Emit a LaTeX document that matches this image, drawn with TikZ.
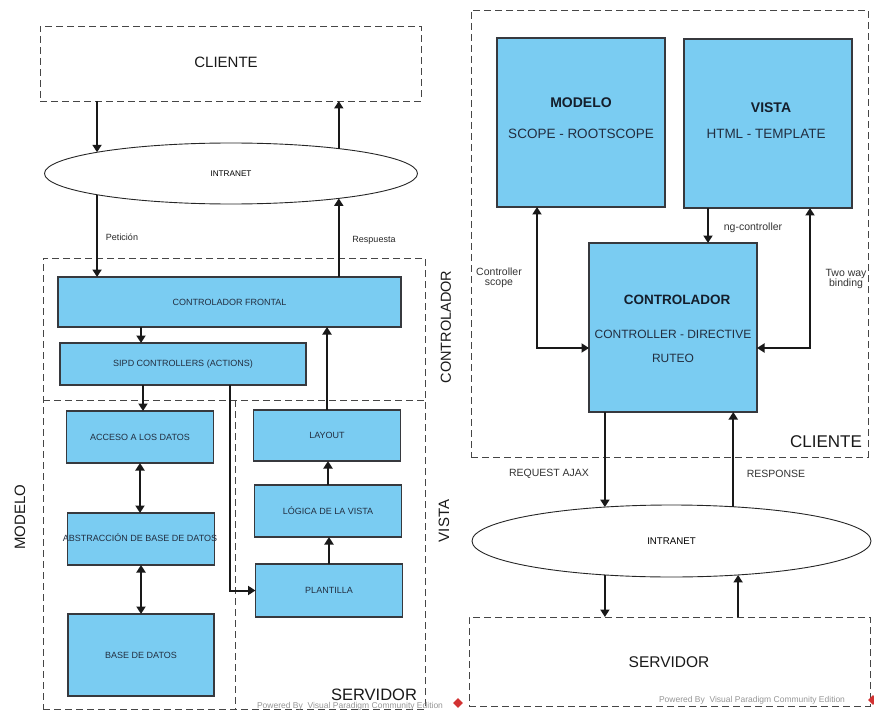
\documentclass[tikz,border=0pt]{standalone}
\usepackage{fontspec}
\setmainfont{Liberation Sans}
\usetikzlibrary{arrows.meta,shapes.geometric}
\definecolor{boxblue}{RGB}{122,204,242}
\definecolor{boxline}{RGB}{55,57,62}
\definecolor{boxtext}{RGB}{34,46,64}
\definecolor{titletext}{RGB}{20,30,44}
\definecolor{framegray}{RGB}{70,70,70}
\definecolor{markgray}{RGB}{150,150,150}
\definecolor{vpred}{RGB}{210,50,50}
\newcommand{\fs}[1]{\fontsize{#1}{#1}\selectfont}
\begin{document}
\begin{tikzpicture}[x=1pt,y=-1pt,
  box/.style={draw=boxline, fill=boxblue, line width=1.2pt, inner sep=0pt, outer sep=0pt,
              text=boxtext, font=\fs{9}, align=center},
  frame/.style={draw=framegray, dash pattern=on 7pt off 4pt, line width=0.9pt,
                inner sep=0pt, outer sep=0pt},
  cloud/.style={ellipse, draw=black!85, line width=0.9pt, inner sep=0pt, outer sep=0pt},
  arr/.style={-{Triangle[length=7.5pt,width=9pt]}, line width=2pt, black!90},
  biarr/.style={{Triangle[length=7.5pt,width=9pt]}-{Triangle[length=7.5pt,width=9pt]},
                line width=2pt, black!90},
  lbl/.style={font=\fs{9}, text=black!85, align=center},
  rlbl/.style={font=\fs{10.5}, text=black!80, align=center},
  zone/.style={font=\fs{15}, text=black!90},
  wmark/.style={font=\fs{8.5}, text=markgray},
  logo/.style={diamond, fill=vpred, minimum size=10pt, inner sep=0pt}]
\useasboundingbox (0,0) rectangle (874,711);

% ---------------- server-side MVC (left) ----------------
\node[frame, minimum width=381pt, minimum height=75pt] (cli) at (230.5,63.5) {};
\node[zone] (clitxt) at (226,62) {CLIENTE};
\node[cloud, minimum width=373pt, minimum height=61pt, font=\fs{8.2}] (net1) at (231,173.5) {INTRANET};

% server frame and its internal partitions
\node[frame, minimum width=382pt, minimum height=451pt] (srvl) at (234,483.5) {};
\coordinate (hsplitL) at (43,400);
\coordinate (hsplitR) at (425,400);
\coordinate (vsplitT) at (235,400);
\coordinate (vsplitB) at (235,709);
\draw[frame] (hsplitL) -- (hsplitR);
\draw[frame] (vsplitT) -- (vsplitB);

\node[box, minimum width=343pt, minimum height=50pt] (cf) at (229.5,302) {CONTROLADOR FRONTAL};
\node[box, minimum width=246pt, minimum height=42pt] (sipd) at (183,364) {SIPD CONTROLLERS (ACTIONS)};
\node[box, minimum width=147pt, minimum height=52pt] (acc) at (140,437) {ACCESO A LOS DATOS};
\node[box, minimum width=147pt, minimum height=52pt] (abs) at (141,539) {};
\node[font=\fs{9}, text=boxtext, inner sep=0pt] (abstxt) at (140,538) {ABSTRACCIÓN DE BASE DE DATOS};
\node[box, minimum width=146pt, minimum height=82pt] (bdd) at (141,655) {BASE DE DATOS};
\node[box, minimum width=147pt, minimum height=51pt] (lay) at (327,435.5) {LAYOUT};
\node[box, minimum width=147pt, minimum height=52pt] (log) at (328,511) {LÓGICA DE LA VISTA};
\node[box, minimum width=147pt, minimum height=53pt] (pla) at (329,590.5) {PLANTILLA};

\draw[arr] (cli.south -| net1.171.94) -- (net1.171.94);
\draw[arr] (net1.13.5) -- (net1.13.5 |- cli.south);
\draw[arr] (net1.-171.94) -- (net1.-171.94 |- cf.north);
\draw[arr] (cf.north -| net1.-13.5) -- (net1.-13.5);
\node[lbl] (lpet) at (122,237) {Petición};
\node[lbl] (lres) at (374,240) {Respuesta};

\draw[arr] ([xshift=-88.5pt]cf.south) -- ([xshift=-88.5pt]cf.south |- sipd.north);
\draw[arr] ([xshift=-40pt]sipd.south) -- ([xshift=-40pt]sipd.south |- acc.north);
\draw[biarr] (acc.south) -- (acc.south |- abs.north);
\draw[biarr] (abs.south) -- (abs.south |- bdd.north);
\draw[arr] ([xshift=47pt]sipd.south) |- (pla.west);
\draw[arr] (pla.north) -- (pla.north |- log.south);
\draw[arr] (log.north) -- (log.north |- lay.south);
\draw[arr] (lay.north) -- (lay.north |- cf.south);

\node[zone, rotate=90, font=\fs{14.5}] (zctl) at (446,327) {CONTROLADOR};
\node[zone, rotate=90] (zmod) at (20,517) {MODELO};
\node[zone, rotate=90] (zvis) at (444,521) {VISTA};
\node[wmark] (wm1) at (350,706) {Powered By \ Visual Paradigm Community Edition};
\node[logo] (lg1) at (458,703) {};
\node[zone, font=\fs{16.5}] (zsrv) at (374,695) {SERVIDOR};

% ---------------- client-side MVC (right) ----------------
\node[frame, minimum width=397pt, minimum height=447pt] (rcli) at (669.5,233.5) {};
\node[zone, font=\fs{17}] (rclitxt) at (826,442) {CLIENTE};

\node[box, minimum width=168pt, minimum height=169pt] (mod) at (581,122.5) {};
\node[font=\bfseries\fs{14}, text=titletext] (modt) at ([yshift=19.5pt]mod.center) {MODELO};
\node[font=\fs{13.5}, text=boxtext] (mods) at ([yshift=-11.5pt]mod.center) {SCOPE - ROOTSCOPE};

\node[box, minimum width=168pt, minimum height=169pt] (vis) at (768,123.5) {};
\node[font=\bfseries\fs{14}, text=titletext] (vist) at ([xshift=3pt,yshift=15.5pt]vis.center) {VISTA};
\node[font=\fs{13.5}, text=boxtext] (viss) at ([xshift=-2pt,yshift=-10.5pt]vis.center) {HTML - TEMPLATE};

\node[box, minimum width=168pt, minimum height=169pt] (ctl) at (673,327.5) {};
\node[font=\bfseries\fs{13.5}, text=titletext] (ctlt) at ([xshift=4pt,yshift=27.5pt]ctl.center) {CONTROLADOR};
\node[font=\fs{12}, text=boxtext] (ctls) at ([yshift=-6.5pt]ctl.center) {CONTROLLER - DIRECTIVE};
\node[font=\fs{12}, text=boxtext] (ctlr) at ([yshift=-30.5pt]ctl.center) {RUTEO};

\draw[arr] ([xshift=-60pt]vis.south) -- ([xshift=-60pt]vis.south |- ctl.north);
\node[rlbl] (lng) at (753,228) {ng-controller};
\draw[biarr] ([xshift=-44pt]mod.south) |- ([yshift=-20.5pt]ctl.west);
\draw[biarr] ([xshift=42pt]vis.south) |- ([yshift=-20.5pt]ctl.east);
\node[rlbl] (lcs) at (499,278) {Controller\\scope};
\node[rlbl] (ltw) at (846,279) {Two way\\binding};

\node[cloud, minimum width=399pt, minimum height=72pt, font=\fs{9.7}] (net2) at (671.5,541) {INTRANET};
\node[frame, minimum width=401pt, minimum height=89pt] (srv) at (669.5,661.5) {};
\node[zone, font=\fs{15.5}] (srvtxt) at (669,662) {SERVIDOR};

\draw[arr] (ctl.south -| net2.153.34) -- (net2.153.34);
\draw[arr] (net2.29.55) -- (net2.29.55 |- ctl.south);
\node[rlbl] (lreq) at (549,474) {REQUEST AJAX};
\node[rlbl] (lrsp) at (776,474) {RESPONSE};
\draw[arr] (net2.-153) -- (net2.-153 |- srv.north);
\draw[arr] (srv.north -| net2.-27.43) -- (net2.-27.43);

\node[wmark] (wm2) at (752,700) {Powered By \ Visual Paradigm Community Edition};
\node[logo] (lg2) at (873,700) {};
\end{tikzpicture}
\end{document}
